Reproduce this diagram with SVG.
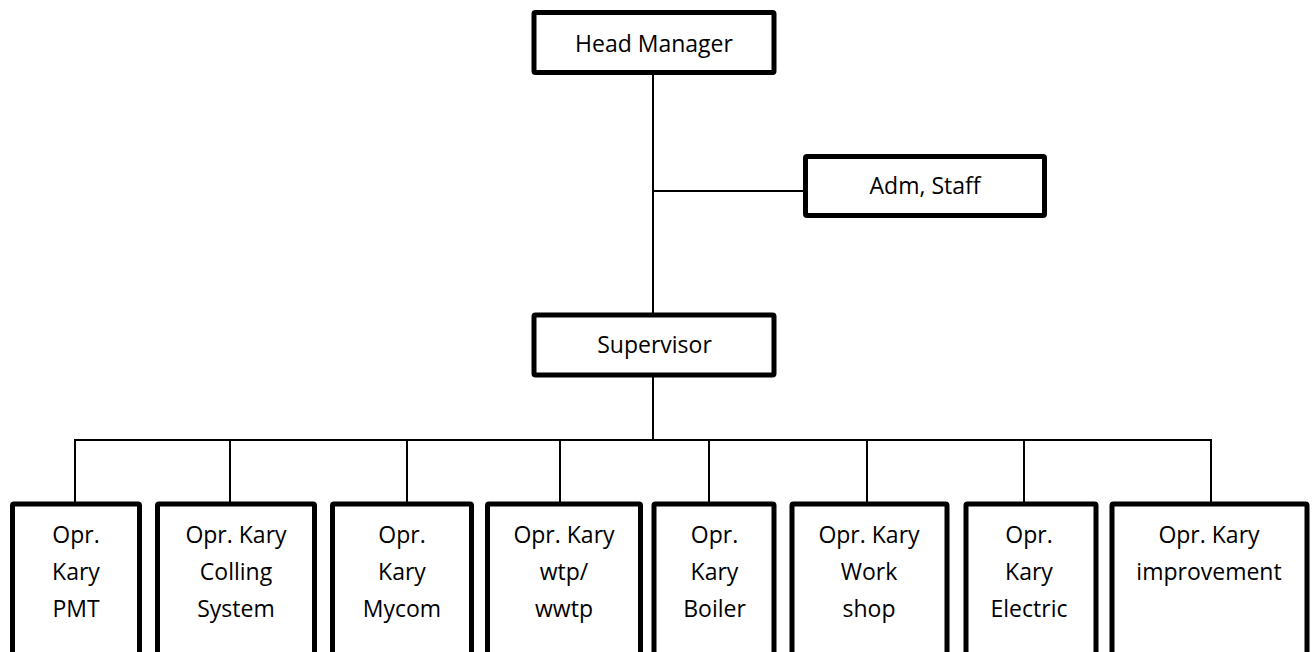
<svg xmlns="http://www.w3.org/2000/svg" width="1312" height="652" viewBox="0 0 1312 652">
<style>
.box{fill:#fff;stroke:#000;stroke-width:5}
.ln{stroke:#000;stroke-width:2;fill:none}
text{font-family:"Open Sans","Liberation Sans",sans-serif;font-size:23px;fill:#000;text-anchor:middle}
</style>
<rect width="1312" height="652" fill="#fff"/>
<g id="connectors">
<line class="ln" x1="653" y1="75" x2="653" y2="313"/>
<line class="ln" x1="653" y1="191" x2="804" y2="191"/>
<line class="ln" x1="653" y1="377" x2="653" y2="440"/>
<line class="ln" x1="74" y1="440" x2="1212" y2="440"/>
<line class="ln" x1="75" y1="439" x2="75" y2="502"/>
<line class="ln" x1="230" y1="439" x2="230" y2="502"/>
<line class="ln" x1="407" y1="439" x2="407" y2="502"/>
<line class="ln" x1="560" y1="439" x2="560" y2="502"/>
<line class="ln" x1="709" y1="439" x2="709" y2="502"/>
<line class="ln" x1="867" y1="439" x2="867" y2="502"/>
<line class="ln" x1="1024" y1="439" x2="1024" y2="502"/>
<line class="ln" x1="1211" y1="439" x2="1211" y2="502"/>
</g>
<g id="head-manager">
<rect class="box" x="534" y="12.5" width="240" height="60" rx="1.5"/>
<text x="654" y="52">Head Manager</text>
</g>
<g id="adm-staff">
<rect class="box" x="805.5" y="156.5" width="239" height="59" rx="1.5"/>
<text x="925" y="194">Adm, Staff</text>
</g>
<g id="supervisor">
<rect class="box" x="534" y="315" width="240" height="60" rx="1.5"/>
<text x="654.5" y="353">Supervisor</text>
</g>
<g id="opr-pmt">
<rect class="box" x="12.5" y="504" width="127" height="180" rx="1.5"/>
<text x="76" y="543">Opr.</text><text x="76" y="580">Kary</text><text x="76" y="617">PMT</text>
</g>
<g id="opr-colling">
<rect class="box" x="157.5" y="504" width="157" height="180" rx="1.5"/>
<text x="236" y="543">Opr. Kary</text><text x="236" y="580">Colling</text><text x="236" y="617">System</text>
</g>
<g id="opr-mycom">
<rect class="box" x="332.5" y="504" width="139" height="180" rx="1.5"/>
<text x="402" y="543">Opr.</text><text x="402" y="580">Kary</text><text x="402" y="617">Mycom</text>
</g>
<g id="opr-wtp">
<rect class="box" x="487.5" y="504" width="153" height="180" rx="1.5"/>
<text x="564" y="543">Opr. Kary</text><text x="564" y="580">wtp/</text><text x="564" y="617">wwtp</text>
</g>
<g id="opr-boiler">
<rect class="box" x="654" y="504" width="120" height="180" rx="1.5"/>
<text x="714.5" y="543">Opr.</text><text x="714.5" y="580">Kary</text><text x="714.5" y="617">Boiler</text>
</g>
<g id="opr-workshop">
<rect class="box" x="792" y="504" width="155" height="180" rx="1.5"/>
<text x="869" y="543">Opr. Kary</text><text x="869" y="580">Work</text><text x="869" y="617">shop</text>
</g>
<g id="opr-electric">
<rect class="box" x="966" y="504" width="130" height="180" rx="1.5"/>
<text x="1029" y="543">Opr.</text><text x="1029" y="580">Kary</text><text x="1029" y="617">Electric</text>
</g>
<g id="opr-improvement">
<rect class="box" x="1112" y="504" width="195" height="180" rx="1.5"/>
<text x="1209" y="543">Opr. Kary</text><text x="1209" y="580">improvement</text>
</g>
</svg>
